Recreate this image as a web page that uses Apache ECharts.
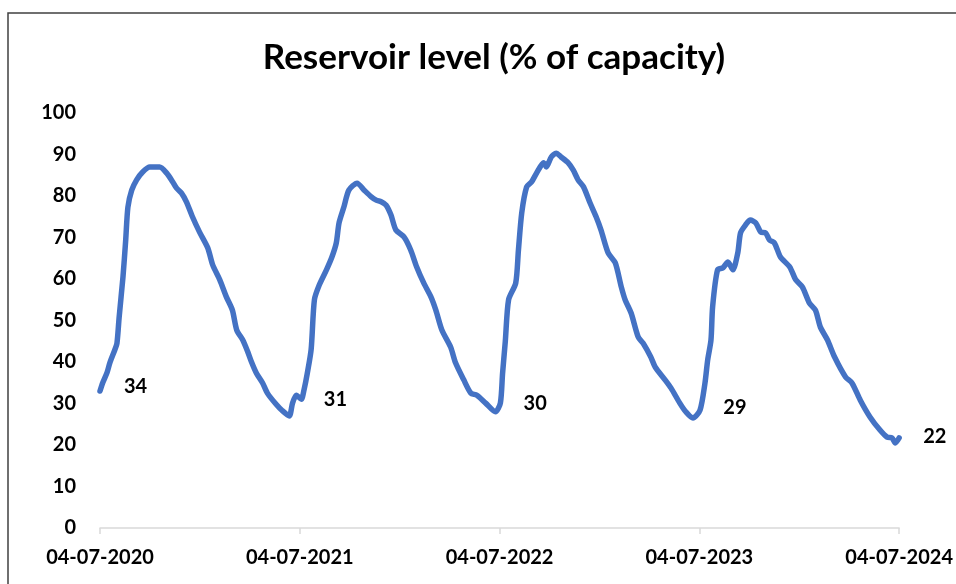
<!DOCTYPE html>
<html>
<head>
<meta charset="utf-8">
<script src="https://cdn.jsdelivr.net/npm/echarts@6/dist/echarts.min.js"></script>
<style>
html,body{margin:0;padding:0;background:#fff;}
#chart{width:956px;height:584px;}
</style>
</head>
<body>
<div id="chart"></div>
<script>
// Days since 04-07-2020
const dayOffsets = [0,5,13,18,27,31,35,42,47,51,58,67,78,91,109,122,133,140,149,158,169,182,197,206,219,231,242,250,261,270,277,286,297,306,322,333,346,352,359,368,373,379,386,392,401,414,424,432,437,446,455,470,483,496,505,514,523,532,541,556,568,579,592,605,614,625,641,650,665,678,689,705,723,732,736,741,747,760,765,771,780,789,798,811,816,825,834,843,856,865,874,884,896,907,916,929,942,953,960,971,984,993,1007,1015,1033,1044,1060,1071,1084,1097,1106,1111,1117,1120,1129,1139,1148,1157,1166,1171,1180,1189,1199,1208,1217,1224,1233,1244,1261,1272,1284,1297,1308,1317,1330,1343,1363,1375,1390,1408,1426,1439,1448,1454,1461];
const levels = [33,35,37.5,39.8,42.9,44.5,50.8,60.5,69.4,77.3,81.4,83.9,85.8,87,87,85.5,83.4,81.9,80.7,78.6,75,71.3,67.5,63.4,59.8,55.7,52.5,47.7,45.3,42.5,40,37.3,35,32.5,29.8,28.3,27,30.1,32,31,33.3,37.3,43,55,58.6,62.2,65.3,68.7,73.5,77.4,81.4,83.1,81.4,79.8,79,78.6,77.8,75.4,71.8,70.1,67,62.9,59,55.7,52.5,47.7,43.6,39.8,35.7,32.5,32,30.1,28,30.1,37.3,45,55,59,67,75.9,82.2,83.4,85.5,88,87,89.4,90.3,89.4,88,86.3,83.9,82.2,78.3,75,71.8,66.3,63.9,58.1,55,51.8,46,44.5,41.2,38.8,35.7,33.7,30.1,28,26.5,28.4,34.9,40.5,45.3,53.3,62.2,62.7,64.1,62.2,66.3,71.1,73,74.2,73.5,71.3,71.1,69.4,68.7,65.3,62.9,59.8,58.1,54.2,52.5,48.4,45.3,41.2,36.4,34.9,30.8,26.7,23.6,21.9,21.7,20.5,21.7];
const tickLabels = ['04-07-2020','04-07-2021','04-07-2022','04-07-2023','04-07-2024'];
const annotationValues = [34,31,30,29,22];
const yearDays = 365.25;

const chart = echarts.init(document.getElementById('chart'));
const FONT = 'Lato';
chart.setOption({
  backgroundColor: '#fff',
  animation: false,
  title: {
    text: 'Reservoir level (% of capacity)',
    left: 489,
    textAlign: 'center',
    top: 35,
    textStyle: {fontFamily: FONT, fontWeight: 'bold', fontSize: 35, color: '#000'}
  },
  graphic: [{
    type: 'rect',
    shape: {x: 8, y: 13, width: 1000, height: 700},
    style: {fill: null, stroke: '#404040', lineWidth: 1.5},
    silent: true
  }],
  grid: {left: 100, right: 54, top: 113, bottom: 56, containLabel: false},
  xAxis: {
    type: 'value',
    min: 0,
    max: 1461,
    interval: yearDays,
    axisLine: {show: true, lineStyle: {color: '#d9d9d9', width: 1.5}},
    axisTick: {show: true, length: 6, lineStyle: {color: '#d9d9d9', width: 1.5}},
    splitLine: {show: false},
    axisLabel: {
      margin: 20,
      fontFamily: FONT, fontWeight: 'bold', fontSize: 20, color: '#000',
      formatter: v => tickLabels[Math.round(v / yearDays)] || ''
    }
  },
  yAxis: {
    type: 'value',
    min: 0, max: 100, interval: 10,
    axisLine: {show: false},
    axisTick: {show: false},
    splitLine: {show: false},
    axisLabel: {margin: 24, fontFamily: FONT, fontWeight: 'bold', fontSize: 20, color: '#000'}
  },
  series: [{
    type: 'line',
    data: dayOffsets.map((d, i) => [d, levels[i]]),
    showSymbol: false,
    smooth: 0.25,
    lineStyle: {color: '#4472C4', width: 5.5, cap: 'round', join: 'round'},
    itemStyle: {color: '#4472C4'}
  }, {
    type: 'scatter',
    data: annotationValues.map((v, i) => [i * yearDays, v]),
    symbolSize: 0,
    itemStyle: {color: '#000', opacity: 1},
    label: {
      show: true, position: 'right', distance: 24, opacity: 1,
      fontFamily: FONT, fontWeight: 'bold', fontSize: 20, color: '#000',
      formatter: p => String(p.value[1])
    }
  }]
});
</script>
</body>
</html>
